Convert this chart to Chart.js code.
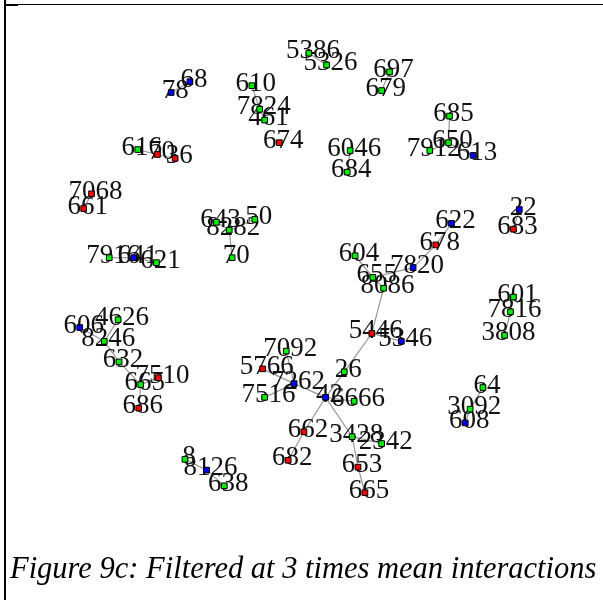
<!DOCTYPE html>
<html>
<head>
<meta charset="utf-8">
<script src="https://cdn.jsdelivr.net/npm/chart.js@4/dist/chart.umd.min.js"></script>
<style>
    body { margin: 0; background: #fff; }
    #wrap { position: relative; width: 603px; height: 600px; overflow: hidden; }
    #netChart { position: absolute; left: 0; top: 0; }
    .rule { position: absolute; background: #000; }
    #caption {
        position: absolute; left: 10px; top: 551px;
        font-family: "Liberation Serif", "Times New Roman", serif;
        font-style: italic; font-size: 30.5px; color: #000; white-space: nowrap;
    }
</style>
</head>
<body>
<div id="wrap">
    <canvas id="netChart" width="603" height="600"></canvas>
    <div class="rule" style="left:4px; top:0; width:2px; height:600px;"></div>
    <div class="rule" style="left:5px; top:4px; width:598px; height:1px;"></div>
    <div class="rule" style="left:5px; top:4px; width:13px; height:2px;"></div>
    <div id="caption">Figure 9c: Filtered at 3 times mean interactions</div>
</div>
<script>
// node labels, positions (graph units) and group
const nodeNames = ['78','68','610','7824','461','674','616','70','36','5386',
    '5326','697','679','685','650','7912','613','6046','684','7068',
    '661','643','50','8282','70','7916','641','621','22','683',
    '622','678','604','7820','655','8086','601','7816','3808','64',
    '3092','608','606','4626','8246','632','665','7510','686','5446',
    '5346','7092','5766','7262','7516','26','42','6666','662','3428',
    '2342','682','653','665','8','8126','638'];
const nodeX = [169,188,251,259,264,279,135,155,173,309,
    327,391,383,452,451,432,476,351,348,88,
    80,215,254,228,231,106,131,154,523,517,
    454,438,356,415,374,385,517,514,508,486,
    473,468,76,115,101,116,138,156,136,373,
    403,286,262,294,264,345,326,355,304,353,
    383,288,359,366,183,205,223];
const nodeY = [89,78,82,106,117,140,147,152,156,49,
    61,68,87,113,140,148,153,148,170,192,
    207,221,218,229,257,257,257,262,208,228,
    222,244,255,267,277,288,297,312,336,389,
    411,425,328,320,342,363,386,379,410,334,
    342,352,370,385,399,373,399,403,434,439,
    446,463,470,496,462,473,489];
const nodeGroup = ['B','B','G','G','G','R','G','R','R','G',
    'G','G','G','G','G','G','B','G','G','R',
    'R','G','G','G','G','G','B','G','B','R',
    'B','R','G','B','G','G','G','G','G','G',
    'G','B','B','G','G','G','G','R','R','R',
    'B','G','R','B','G','G','B','G','R','G',
    'G','R','R','R','G','B','G'];
// ties, as pairs of node indices
const ties = [[0,1],[2,3],[3,4],[6,7],[7,8],[9,10],[11,12],[13,14],[14,15],[14,16],
    [17,18],[19,20],[21,23],[22,23],[23,24],[25,26],[26,27],[28,29],
    [30,31],[31,33],[33,34],[32,34],[34,35],[35,49],[49,50],[49,55],[55,56],
    [56,57],[56,53],[53,54],[52,53],[51,53],[56,58],[58,61],[56,59],[59,60],
    [59,62],[62,63],[36,37],[37,38],[39,40],[40,41],[42,44],[43,44],[44,45],
    [45,46],[46,47],[46,48],[64,65],[65,66]];

const groupColors = { G: '#00ee00', B: '#0000ff', R: '#ff0000' };

const tieSets = ties.map(function(t) {
    return {
        type: 'scatter',
        showLine: true,
        data: [{ x: nodeX[t[0]], y: nodeY[t[0]] }, { x: nodeX[t[1]], y: nodeY[t[1]] }],
        borderColor: '#999999',
        borderWidth: 1.2,
        pointRadius: 0,
        order: 2
    };
});

// labels go under the node squares but over the ties
const labelPlugin = {
    id: 'nodeLabels',
    beforeDatasetDraw(chart, args) {
        if (args.index !== 0) return;
        const ctx = chart.ctx;
        const xs = chart.scales.x, ys = chart.scales.y;
        ctx.save();
        ctx.font = '27px "Liberation Serif", "Times New Roman", serif';
        ctx.fillStyle = '#111';
        ctx.textAlign = 'center';
        ctx.textBaseline = 'alphabetic';
        nodeNames.forEach(function(name, i) {
            ctx.fillText(name, xs.getPixelForValue(nodeX[i]) + 4, ys.getPixelForValue(nodeY[i]) + 5);
        });
        ctx.restore();
    }
};

new Chart(document.getElementById('netChart').getContext('2d'), {
    data: {
        datasets: [{
            type: 'scatter',
            data: nodeX.map(function(x, i) { return { x: x, y: nodeY[i] }; }),
            pointStyle: 'rect',
            pointRadius: 4,
            pointBackgroundColor: nodeGroup.map(function(g) { return groupColors[g]; }),
            pointBorderColor: '#000',
            pointBorderWidth: 1,
            order: 0
        }].concat(tieSets)
    },
    options: {
        responsive: false,
        animation: false,
        layout: { padding: 0 },
        plugins: { legend: { display: false }, tooltip: { enabled: false } },
        scales: {
            x: { type: 'linear', min: 0, max: 603, display: false },
            y: { type: 'linear', min: 0, max: 600, reverse: true, display: false }
        }
    },
    plugins: [labelPlugin]
});
</script>
</body>
</html>
